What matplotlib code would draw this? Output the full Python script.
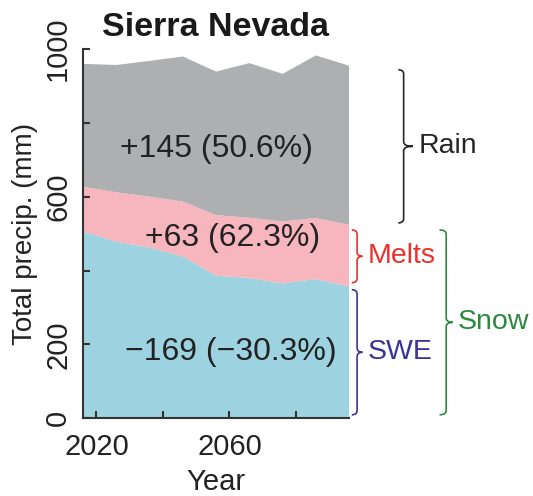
import numpy as np
import matplotlib
matplotlib.use("Agg")
import matplotlib.pyplot as plt
from matplotlib.path import Path
from matplotlib.patches import PathPatch
import matplotlib.transforms as mtransforms

plt.rcParams['font.family'] = ['Liberation Sans', 'DejaVu Sans']

# decadal values, mm
years = [2016, 2026, 2036, 2046, 2056, 2066, 2076, 2086, 2096]
swe = [506, 478, 462, 438, 386, 380, 365, 377, 357]
melts = [121, 134, 138, 149, 164, 163, 168, 165, 167]
rain = [333, 345, 368, 393, 389, 419, 400, 441, 431]

changes = ["+145 (50.6%)", "+63 (62.3%)", "\u2212169 (\u221230.3%)"]
brace_names = ["Rain", "Melts", "SWE", "Snow"]

c_swe, c_melt, c_rain = "#9dd3e0", "#f7b6be", "#adafb0"
c_txt = {"Rain": "#262626", "Melts": "#e8302c", "SWE": "#3b3397", "Snow": "#2b8a3e"}
axcol = "#333333"

fig = plt.figure(figsize=(5.33, 4.96), dpi=100)
ax = fig.add_axes([0.156, 0.157, 0.499, 0.744])

ax.stackplot(years, swe, melts, rain, colors=[c_swe, c_melt, c_rain], linewidth=0)
ax.set_xlim(years[0], years[-1])
ax.set_ylim(0, 1000)

ax.set_xticks([2020, 2040, 2060, 2080])
ax.set_xticklabels(["2020", "", "2060", ""])
ax.set_yticks([0, 200, 400, 600, 800, 1000])
ax.set_yticklabels(["0", "200", "", "600", "", "1000"], rotation=90, va="center")
ax.tick_params(direction="in", length=5, width=1.5, color=axcol,
               labelsize=21, labelcolor="#222222")
ax.tick_params(axis="x", pad=11)
ax.tick_params(axis="y", pad=8)
for s in ["top", "right"]:
    ax.spines[s].set_visible(False)
for s in ["left", "bottom"]:
    ax.spines[s].set_color(axcol)
    ax.spines[s].set_linewidth(1.5)

ax.set_xlabel("Year", fontsize=21, color="#222222", labelpad=5)
ax.set_ylabel("Total precip. (mm)", fontsize=20, color="#222222", labelpad=4)
fig.text(0.404, 0.945, "Sierra Nevada", fontsize=24.5, fontweight="bold",
         ha="center", va="center", color="#1a1a1a")

# change labels inside each band
ax.text(2056, 730, changes[0], fontsize=23, ha="center", va="center", color="#222222")
ax.text(2061, 489, changes[1], fontsize=23, ha="center", va="center", color="#222222")
ax.text(2060.5, 178, changes[2], fontsize=23, ha="center", va="center", color="#222222")


def brace(x0, xm, x1, yb, yt, color, label):
    trans = mtransforms.blended_transform_factory(ax.transAxes, ax.transData)
    ym = (yb + yt) / 2
    r = 12
    verts = [(x0, yt), (xm, yt), (xm, yt - r),
             (xm, ym + r), (xm, ym), (x1, ym),
             (xm, ym), (xm, ym - r),
             (xm, yb + r), (xm, yb), (x0, yb)]
    codes = [Path.MOVETO, Path.CURVE3, Path.CURVE3,
             Path.LINETO, Path.CURVE3, Path.CURVE3,
             Path.CURVE3, Path.CURVE3,
             Path.LINETO, Path.CURVE3, Path.CURVE3]
    ax.add_patch(PathPatch(Path(verts, codes), transform=trans, fill=False,
                           edgecolor=color, linewidth=1.2, clip_on=False))
    ax.text(x1 + 0.02, ym, label, transform=trans, fontsize=20.5,
            color=color, ha="left", va="center")


# braces span the last-decade stack
top_swe = swe[-1]
top_melt = swe[-1] + melts[-1]
top_all = top_melt + rain[-1]
brace(1.185, 1.205, 1.24, top_melt + 5, top_all - 11, c_txt["Rain"], brace_names[0])
brace(1.01, 1.03, 1.05, top_swe + 10, top_melt - 14, c_txt["Melts"], brace_names[1])
brace(1.01, 1.03, 1.05, 9, top_swe - 9, c_txt["SWE"], brace_names[2])
brace(1.34, 1.365, 1.39, 9, top_melt - 14, c_txt["Snow"], brace_names[3])

fig.savefig("out.png", dpi=100)
